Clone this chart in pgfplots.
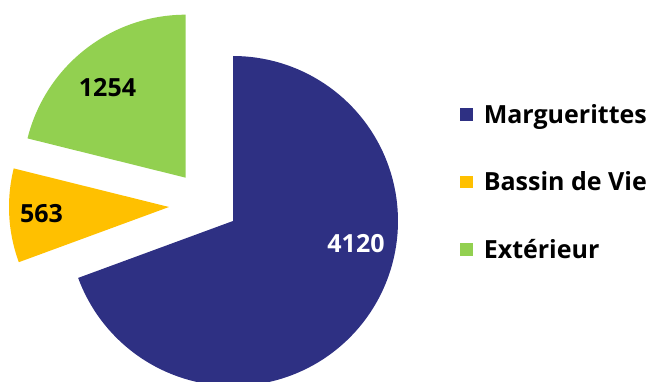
\documentclass[border=0pt]{standalone}
\usepackage{pgfplots}
\pgfplotsset{compat=1.18}
\usepackage{fontspec}
\setmainfont{Open Sans}
\definecolor{cNavy}{HTML}{2E3083}
\definecolor{cYellow}{HTML}{FFC000}
\definecolor{cGreen}{HTML}{92D050}
% data
\def\vA{4120}% Marguerittes
\def\vB{563}%  Bassin de Vie
\def\vC{1254}% Exterieur
\pgfmathsetmacro\tot{\vA+\vB+\vC}
\pgfmathsetmacro\aAB{90-360*(\vA/\tot)}
\pgfmathsetmacro\aBC{\aAB-360*(\vB/\tot)}
\begin{document}
\begin{tikzpicture}
\path[use as bounding box, clip] (0,0) rectangle (650pt,382pt);
\begin{axis}[
  anchor=origin, at={(0,0)},
  x=1pt, y=1pt,
  xmin=0, xmax=650, ymin=0, ymax=382,
  hide axis,
  legend style={at={(axis cs:460,280)}, anchor=north west, draw=none, fill=none,
    font=\bfseries\fontsize{25}{30}\selectfont, row sep=43pt, column sep=9pt, inner sep=0pt,
    cells={anchor=west}},
  legend image code/.code={\fill[#1] (0pt,-6.3pt) rectangle (12.6pt,6.3pt);},
]
% Marguerittes
\addplot[fill=cNavy, draw=none, domain=\aAB:90, samples=120, variable=\t]
  ({233+165*cos(t)}, {161+165*sin(t)}) -- (axis cs:233,161) -- cycle;
\addlegendentry{Marguerittes}
% Bassin de Vie
\addplot[fill=cYellow, draw=none, domain=\aBC:\aAB, samples=40, variable=\t]
  ({169+160*cos(t)}, {175+160*sin(t)}) -- (axis cs:169,175) -- cycle;
\addlegendentry{Bassin de Vie}
% Exterieur
\addplot[fill=cGreen, draw=none, domain=-270:\aBC, samples=80, variable=\t]
  ({185.7+163*cos(t)}, {204.3+163*sin(t)}) -- (axis cs:185.7,204.3) -- cycle;
\addlegendentry{Extérieur}
\node[font=\bfseries\fontsize{25}{30}\selectfont, text=white] at (axis cs:356,138) {4120};
\node[font=\bfseries\fontsize{25}{30}\selectfont, text=black] at (axis cs:41.5,168.5) {563};
\node[font=\bfseries\fontsize{25}{30}\selectfont, text=black] at (axis cs:107.5,294) {1254};
\end{axis}
\end{tikzpicture}
\end{document}
